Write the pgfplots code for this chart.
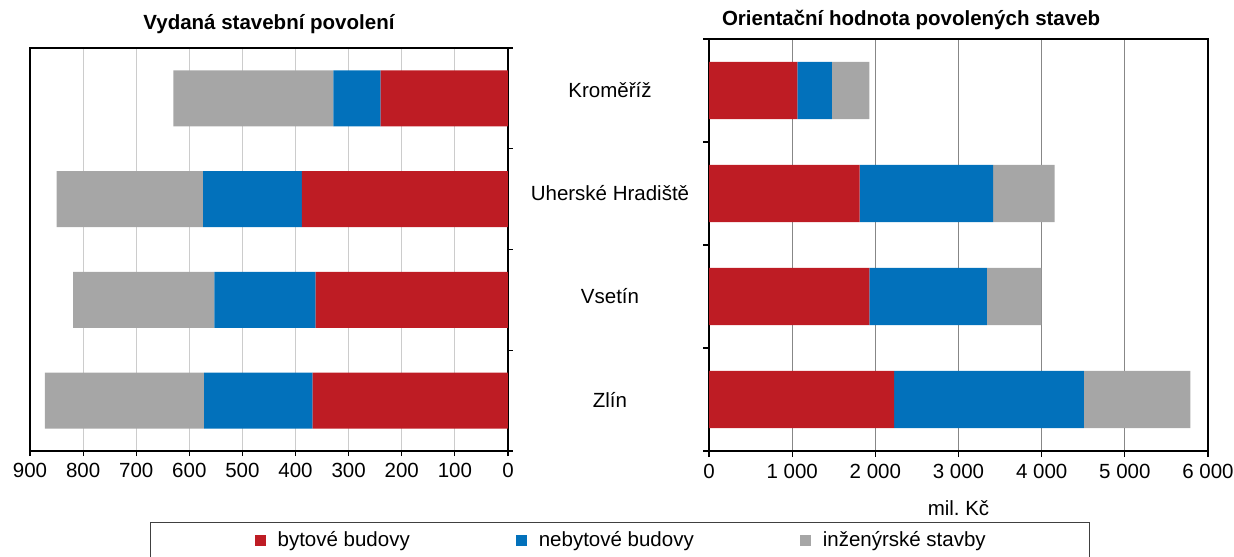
\documentclass[border=0pt]{standalone}
\usepackage{fontspec}
\setmainfont{Liberation Sans}
\usepackage{pgfplots}
\pgfplotsset{compat=1.18}
\definecolor{cred}{RGB}{190,28,36}
\definecolor{cblue}{RGB}{2,113,187}
\definecolor{cgray}{RGB}{166,166,166}
\pgfplotsset{
  sq/.style={legend image code/.code={\fill[##1] (0pt,-2.75pt) rectangle (5.5pt,2.75pt);}},
  common/.style={
    scale only axis, xbar stacked, y dir=reverse, ymin=-0.5, ymax=3.5,
    axis line style={black, line width=0.6pt},
    tick style={black, line width=0.6pt},
    tick align=outside, major tick length=2.5pt, xtick pos=lower,
    bar width=0.555,
    /pgf/number format/assume math mode=true,
    ticklabel style={font=\fontsize{10.25pt}{12.3pt}\selectfont},
  }
}
\begin{document}
\fontsize{10.25pt}{12.3pt}\selectfont
\begin{tikzpicture}
\begin{axis}[common, at={(15pt,-225.5pt)}, anchor=south west, width=239pt, height=201.5pt,
  x dir=reverse, xmin=0, xmax=900, xtick={0,100,...,900},
  xticklabels={0,100,200,300,400,500,600,700,800,900},
  xmajorgrids, grid style={color=black!20, line width=0.6pt},
  ytick={-0.5,0.5,1.5,2.5,3.5}, yticklabels={}, ytick pos=right,
  title={Vydaná stavební povolení},
  title style={font=\bfseries, at={(axis description cs:0.5,1)}, anchor=center, yshift=6pt}]
\addplot[fill=cred, draw=none] coordinates {(240,0) (388,1) (362,2) (368,3)};
\addplot[fill=cblue, draw=none] coordinates {(89,0) (186,1) (191,2) (204,3)};
\addplot[fill=cgray, draw=none] coordinates {(301,0) (276,1) (266,2) (300,3)};
\end{axis}
\begin{axis}[common, at={(354.5pt,-225.5pt)}, anchor=south west, width=249.5pt, height=206pt,
  xmin=0, xmax=6000, xtick={0,1000,...,6000},
  xticklabels={0,1 000,2 000,3 000,4 000,5 000,6 000},
  xmajorgrids, grid style={color=black!47, line width=0.6pt},
  ytick={-0.5,0.5,1.5,2.5,3.5}, y tick label as interval,
  yticklabels={Kroměříž,Uherské Hradiště,Vsetín,Zlín},
  ytick pos=left, major tick length=3pt,
  yticklabel style={anchor=center, xshift=-46.5pt},
  xlabel={mil.\ Kč},
  xlabel style={at={(axis description cs:0.5,0)}, anchor=center, yshift=-28.5pt},
  title={Orientační hodnota povolených staveb},
  title style={font=\bfseries, at={(axis description cs:0.405,1)}, anchor=center, yshift=3.5pt},
  legend columns=3,
  legend style={at={(-1.1202,-0.1723)}, anchor=north west, draw=black!75, line width=0.6pt,
    inner xsep=52pt, inner ysep=4.5pt, nodes={inner sep=0pt, anchor=west},
    /tikz/every odd column/.append style={column sep=6pt},
    /tikz/every even column/.append style={column sep=53pt},
    font=\fontsize{10.25pt}{12.3pt}\selectfont}]
\addplot[fill=cred, draw=none, sq] coordinates {(1063,0) (1812,1) (1929,2) (2226,3)};
\addplot[fill=cblue, draw=none, sq] coordinates {(415,0) (1604,1) (1412,2) (2282,3)};
\addplot[fill=cgray, draw=none, sq] coordinates {(451,0) (739,1) (654,2) (1280,3)};
\legend{bytové budovy, nebytové budovy, inženýrské stavby}
\end{axis}
\pgfresetboundingbox
\useasboundingbox (0,0) rectangle (617pt,-278pt);
\end{tikzpicture}
\end{document}
